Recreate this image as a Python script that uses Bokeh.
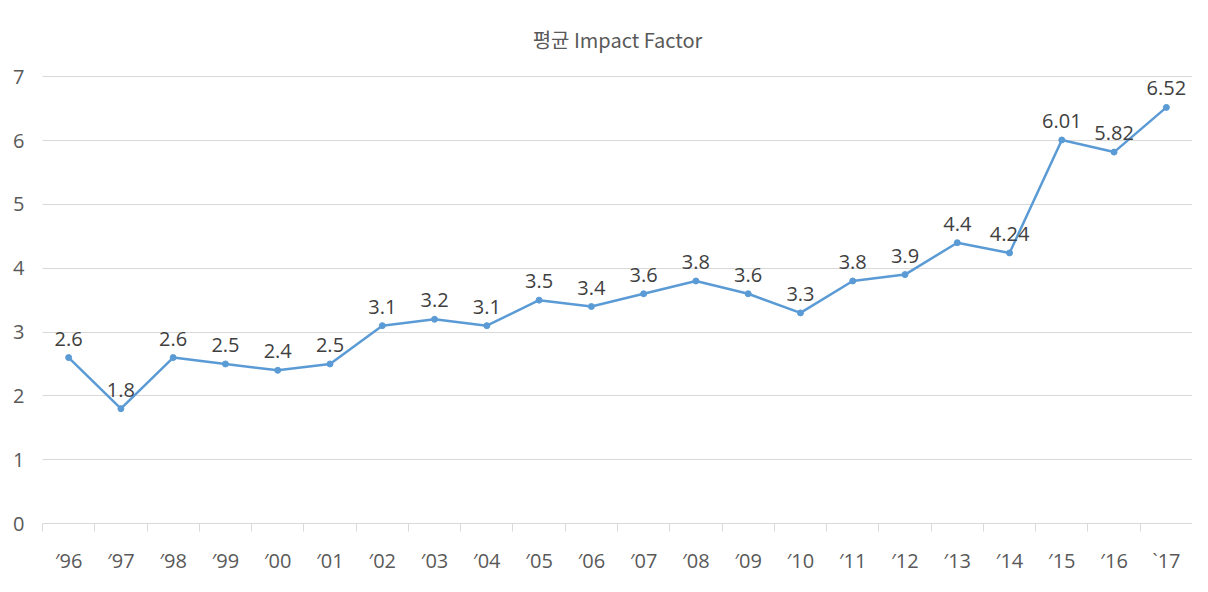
from bokeh.plotting import figure
from bokeh.models import ColumnDataSource, FixedTicker, Range1d, LabelSet
from bokeh.core.properties import value
from bokeh.embed import file_html
from bokeh.resources import INLINE

title_text = "평균 Impact Factor"
years = ["′96", "′97", "′98", "′99", "′00", "′01", "′02", "′03", "′04", "′05", "′06",
         "′07", "′08", "′09", "′10", "′11", "′12", "′13", "′14", "′15", "′16", "`17"]
impact = [2.6, 1.8, 2.6, 2.5, 2.4, 2.5, 3.1, 3.2, 3.1, 3.5, 3.4,
          3.6, 3.8, 3.6, 3.3, 3.8, 3.9, 4.4, 4.24, 6.01, 5.82, 6.52]
labels = ["2.6", "1.8", "2.6", "2.5", "2.4", "2.5", "3.1", "3.2", "3.1", "3.5", "3.4",
          "3.6", "3.8", "3.6", "3.3", "3.8", "3.9", "4.4", "4.24", "6.01", "5.82", "6.52"]
y_ticks = [0, 1, 2, 3, 4, 5, 6, 7]

n = len(years)
xs = [i + 0.5 for i in range(n)]
src = ColumnDataSource(dict(x=xs, y=impact, lab=labels))

TXT = "#595959"
GRID = "#D9D9D9"
LINE = "#5B9BD5"

p = figure(width=1192, height=576, output_backend="svg", toolbar_location=None,
           x_range=Range1d(0, n), y_range=Range1d(0, 7.02),
           min_border_left=42, min_border_right=0, min_border_top=75, min_border_bottom=52)
p.outline_line_color = None
p.background_fill_color = "white"

p.title.text = title_text
p.title.align = "center"
p.title.vertical_align = "top"
p.title.text_font = "Noto Sans CJK KR"
p.title.text_font_size = "20px"
p.title.text_font_style = "normal"
p.title.text_color = TXT
p.title.standoff = 40

p.line("x", "y", source=src, line_color=LINE, line_width=2.5)
p.scatter("x", "y", source=src, size=6, fill_color=LINE, line_color=LINE)

ls = LabelSet(x="x", y="y", text="lab", source=src, text_align="center",
              text_baseline="bottom", y_offset=12, text_font=value("Open Sans"),
              text_font_size=value("20px"), text_color="#404040")
p.add_layout(ls)

xa = p.xaxis[0]
xa.ticker = FixedTicker(ticks=xs, minor_ticks=list(range(n + 1)))
xa.major_label_overrides = {x: y for x, y in zip(xs, years)}
xa.major_tick_line_color = None
xa.major_tick_out = 0
xa.major_tick_in = 0
xa.minor_tick_line_color = GRID
xa.minor_tick_out = 8
xa.minor_tick_in = 0
xa.axis_line_color = GRID
xa.axis_line_width = 1
xa.major_label_standoff = 15
xa.major_label_text_font = "Open Sans"
xa.major_label_text_font_size = "20px"
xa.major_label_text_color = TXT

ya = p.yaxis[0]
ya.ticker = FixedTicker(ticks=y_ticks)
ya.axis_line_color = None
ya.major_tick_line_color = None
ya.minor_tick_line_color = None
ya.major_tick_out = 0
ya.major_tick_in = 0
ya.major_label_standoff = 18
ya.major_label_text_font = "Open Sans"
ya.major_label_text_font_size = "20px"
ya.major_label_text_color = TXT

p.xgrid.grid_line_color = None
p.ygrid.grid_line_color = GRID
p.ygrid.ticker = FixedTicker(ticks=y_ticks[1:])

open("out.html", "w").write(file_html(p, INLINE))
